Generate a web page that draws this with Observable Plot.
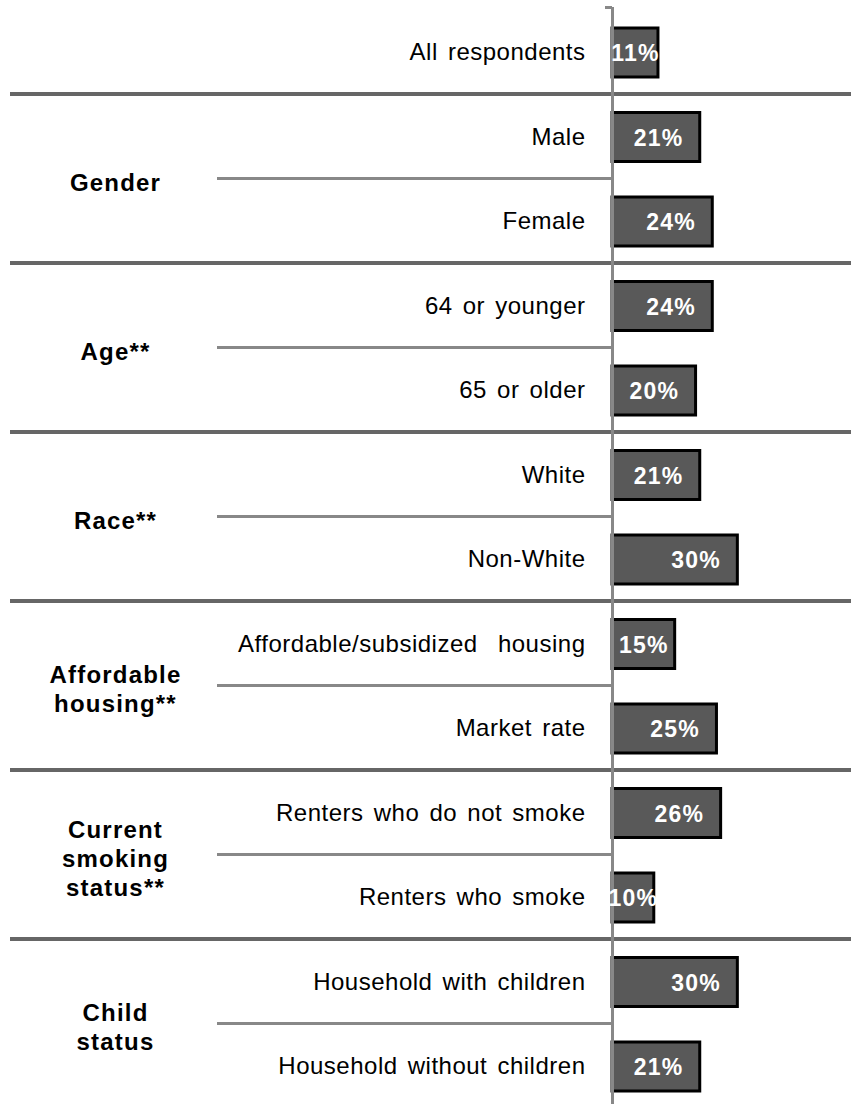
<!DOCTYPE html>
<html>
<head>
<meta charset="utf-8">
<script src="https://cdn.jsdelivr.net/npm/d3@7"></script>
<script src="https://cdn.jsdelivr.net/npm/@observablehq/plot@0.6"></script>
<style>
  body { margin: 0; background: #fff; }
  #chart svg { display: block; }
  #chart g[text-anchor="end"] text { letter-spacing: 0.5px; word-spacing: 3px; white-space: pre; }
  #chart g[fill="white"] text { letter-spacing: 1.2px; }
  #chart g[font-weight="bold"][fill="black"] text { letter-spacing: 1.2px; }
</style>
</head>
<body>
<div id="chart"></div>
<script>
const categories = [
  "All respondents",
  "Male", "Female",
  "64 or younger", "65 or older",
  "White", "Non-White",
  "Affordable/subsidized  housing", "Market rate",
  "Renters who do not smoke", "Renters who smoke",
  "Household with children", "Household without children"
];
const categoryGroups = [
  "",
  "Gender", "Gender",
  "Age**", "Age**",
  "Race**", "Race**",
  "Affordable\nhousing**", "Affordable\nhousing**",
  "Current\nsmoking\nstatus**", "Current\nsmoking\nstatus**",
  "Child\nstatus", "Child\nstatus"
];
const values = [11, 21, 24, 24, 20, 21, 30, 15, 25, 26, 10, 30, 21];
const groupNames = ["Gender", "Age**", "Race**", "Affordable\nhousing**", "Current\nsmoking\nstatus**", "Child\nstatus"];

const rows = categories.map((c, i) => ({i, category: c, group: categoryGroups[i], value: values[i]}));
const groups = groupNames.map(name => {
  const members = rows.filter(r => r.group === name);
  return {name, start: members[0].i, mid: members[0].i + members.length / 2};
});

const chart = Plot.plot({
  width: 851,
  height: 1104,
  marginLeft: 10, marginRight: 0, marginTop: 0, marginBottom: 0,
  x: {domain: [0, 57.2], range: [612, 851], axis: null},
  y: {domain: [0, 13], range: [9, 1107.5], axis: null},
  style: {fontFamily: "Arial, 'Liberation Sans', sans-serif", background: "white"},
  marks: [
    Plot.ruleY(groups, {y: "start", stroke: "#666", strokeWidth: 4}),
    Plot.ruleY(groups, {y: "mid", stroke: "#888", strokeWidth: 3, insetLeft: 207, insetRight: 239}),
    Plot.rectX(rows, {x1: 0, x2: "value", y1: "i", y2: d => d.i + 1, insetTop: 19, insetBottom: 16.5, fill: "#595959", stroke: "black", strokeWidth: 3}),
    Plot.ruleX([0], {y1: 0, y2: 13, stroke: "#888", strokeWidth: 3, insetTop: -2}),
    Plot.ruleY([0], {x1: 0, x2: 0, insetLeft: -7, stroke: "#888", strokeWidth: 3, dy: -2}),
    Plot.text(rows, {x: 0, y: d => d.i + 0.5, text: "category", textAnchor: "end", dx: -27, dy: 1, fontSize: 24, fill: "black"}),
    Plot.text(rows, {x: d => Math.max(d.value - 10, d.value / 2), y: d => d.i + 0.5, text: d => d.value + "%", dy: 2, fill: "white", fontWeight: "bold", fontSize: 23}),
    Plot.text(groups, {frameAnchor: "left", y: "mid", text: "name", dx: 105, dy: 3, fontWeight: "bold", fontSize: 24, lineHeight: 1.2, fill: "black", textAnchor: "middle"})
  ]
});
document.getElementById("chart").appendChild(chart);
</script>
</body>
</html>
